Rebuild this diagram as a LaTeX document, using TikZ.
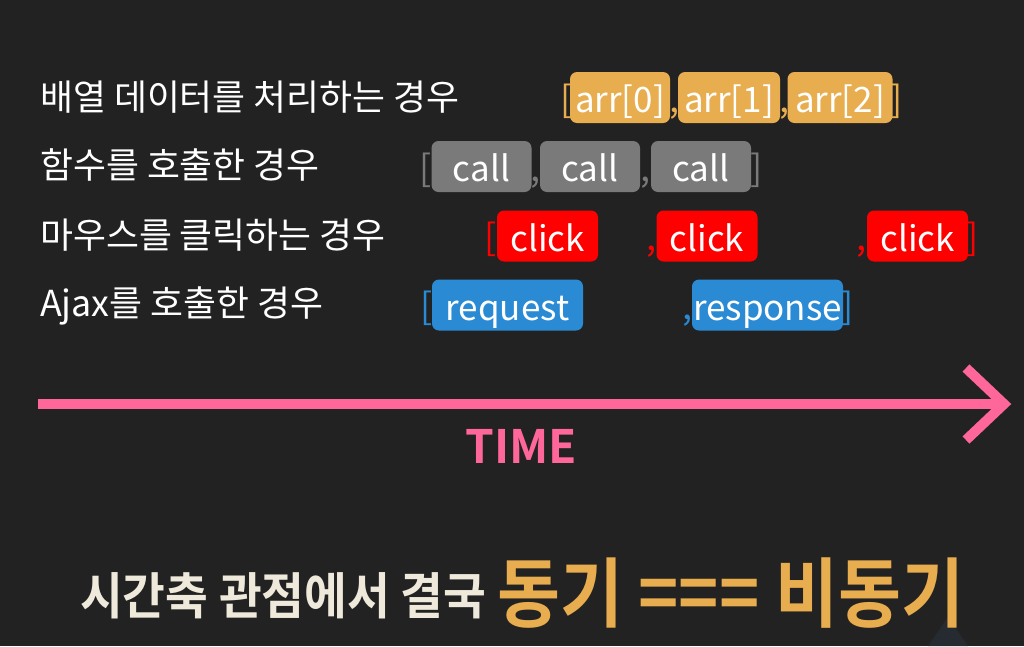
\documentclass[tikz,border=0pt]{standalone}
\usepackage{fontspec}
\setmainfont{Noto Sans CJK KR}[BoldFont={Noto Sans CJK KR Bold}]
\usetikzlibrary{positioning}
\definecolor{bgdark}{HTML}{222222}
\definecolor{arrorange}{HTML}{E8AD4E}
\definecolor{callgray}{HTML}{7A7A7A}
\definecolor{clickred}{HTML}{FF0000}
\definecolor{ajaxblue}{HTML}{2A8AD4}
\definecolor{timepink}{HTML}{FF6699}
\definecolor{creamtext}{HTML}{EEE9DA}
\definecolor{shadeslate}{HTML}{262B31}
\tikzset{
  rowlabel/.style={anchor=base west,inner sep=0pt,text=white,font=\fontsize{35.8}{36}\selectfont},
  item/.style={rounded corners=7pt,inner sep=0pt,text=white,minimum height=51pt,text height=30pt,text depth=0pt,font=\fontsize{35}{35}\selectfont},
  brk/.style={anchor=base,inner sep=0pt,font=\fontsize{36}{36}\selectfont},
  timeline/.style={timepink,line width=10pt,line join=miter}
}
\begin{document}
\begin{tikzpicture}[x=1pt,y=-1pt]
\fill[bgdark] (0,0) rectangle (1024,646);
\useasboundingbox (0,0) rectangle (1024,646);
\fill[shadeslate] (948,617) -- (968,646) -- (928,646) -- cycle;
% labels on the left
\foreach \i/\t/\y in {1/{배열 데이터를 처리하는 경우}/110,2/{함수를 호출한 경우}/178,3/{마우스를 클릭하는 경우}/248,4/{Ajax를 호출한 경우}/316}{
  \node[rowlabel] (label\i) at (40,\y) {\t};
}
% array row
\foreach \n/\x/\w in {0/620/100,1/729/102,2/840/105}{
  \node[item,fill=arrorange,minimum width=\w pt] (arr\n) at (\x,97.5) {arr[\n]};
}
\foreach \n/\x/\t in {open/567/[,c1/674/{,},c2/784/{,},close/897/]}{
  \node[brk,text=arrorange] (arr\n) at (\x,112) {\t};
}
% call row
\foreach \n/\x in {0/481.5,1/590,2/701}{
  \node[item,fill=callgray,minimum width=100pt] (call\n) at (\x,166.5) {call};
}
\foreach \n/\x/\t in {open/426/[,c1/535/{,},c2/645/{,},close/757/]}{
  \node[brk,text=callgray] (call\n) at (\x,181) {\t};
}
% click row
\foreach \n/\x in {0/547.5,1/707,2/917.5}{
  \node[item,fill=clickred,minimum width=101pt] (click\n) at (\x,236) {click};
}
\foreach \n/\x/\t in {open/491/[,c1/651/{,},c2/861/{,},close/973/]}{
  \node[brk,text=clickred] (click\n) at (\x,250.5) {\t};
}
% ajax row
\node[item,fill=ajaxblue,minimum width=151pt] (req) at (507.5,305) {request};
\node[item,fill=ajaxblue,minimum width=151pt] (resp) at (767.5,305) {response};
\foreach \n/\x/\t in {open/427/[,c1/687/{,},close/848/]}{
  \node[brk,text=ajaxblue] (ajax\n) at (\x,319.5) {\t};
}
% time axis
\coordinate (tstart) at (38,404);
\coordinate (tend) at (1004,404);
\draw[timeline] (tstart) -- (tend);
\draw[timeline] (tend) ++(-38,-36) -- (tend) -- ++(-38,36);
\node[anchor=base,inner sep=0pt,text=timepink,font=\bfseries\fontsize{46}{46}\selectfont] (time) at (521,463) {TIME};
% conclusion
\node[anchor=base west,inner sep=0pt,text=creamtext,font=\bfseries\fontsize{50}{50}\selectfont] (concl) at (80,614) {\scalebox{0.93}[1]{시간축 관점에서 결국}};
\node[anchor=base west,inner sep=0pt,text=arrorange,font=\bfseries\fontsize{76}{76}\selectfont] (same) at (497,621) {\scalebox{0.9}[1]{동기 === 비동기}};
\end{tikzpicture}
\end{document}
